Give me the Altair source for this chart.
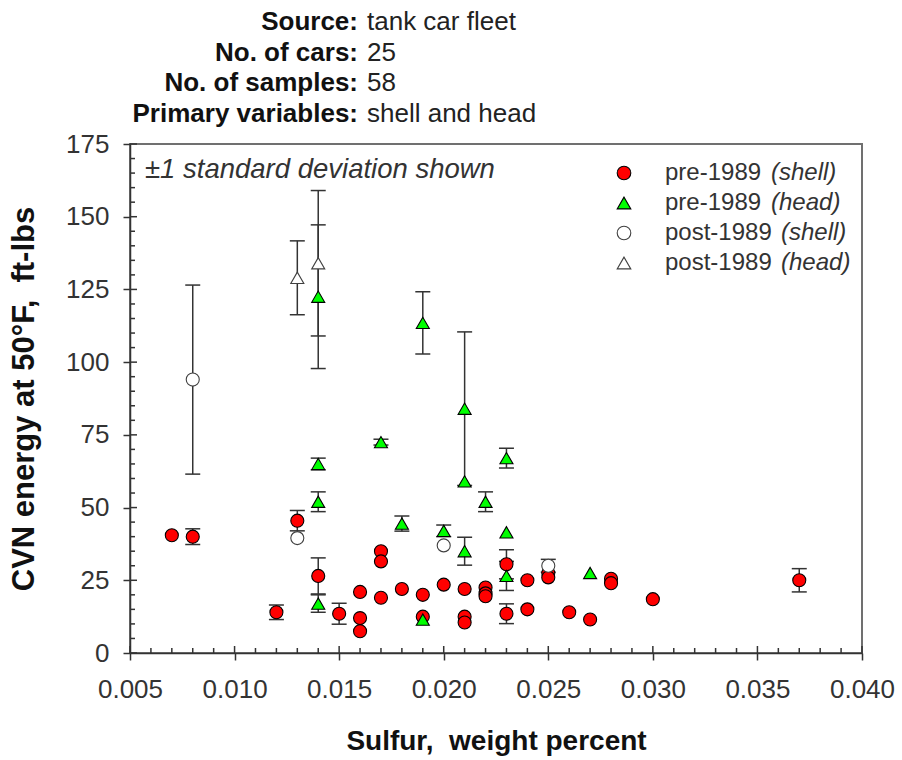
import altair as alt
import pandas as pd

# ---------------- data ----------------
# pre-1989 shell
ps_x = [0.007, 0.008, 0.012, 0.013, 0.014, 0.015, 0.016, 0.016, 0.016, 0.017, 0.017, 0.017,
        0.018, 0.019, 0.019, 0.020, 0.021, 0.021, 0.021, 0.022, 0.022, 0.022, 0.023, 0.023,
        0.024, 0.024, 0.025, 0.025, 0.026, 0.027, 0.028, 0.028, 0.030, 0.037]
ps_y = [40.5, 40.0, 14.0, 45.5, 26.5, 13.5, 21.0, 12.0, 7.5, 35.0, 31.5, 19.0,
        22.0, 20.0, 12.5, 23.5, 22.0, 12.5, 10.5, 22.5, 20.5, 19.5, 30.5, 13.5,
        25.0, 15.0, 27.5, 26.0, 14.0, 11.5, 25.5, 24.0, 18.5, 25.0]
ps_sd = [0, 2.7, 2.5, 3.5, 6.2, 3.6, 0, 0, 0, 0, 0, 0,
         0, 0, 0, 0, 0, 0, 0, 0, 0, 0, 5.0, 3.4,
         0, 0, 0, 0, 0, 0, 0, 0, 0, 4.0]

# pre-1989 head
ph_x = [0.014, 0.014, 0.014, 0.014, 0.017, 0.018, 0.019, 0.019, 0.020, 0.021, 0.021, 0.021,
        0.022, 0.023, 0.023, 0.023, 0.027]
ph_y = [122.5, 65.0, 52.0, 17.0, 72.5, 44.5, 113.5, 11.5, 42.0, 84.0, 59.0, 35.0,
        52.0, 67.0, 41.5, 26.5, 27.5]
ph_sd = [24.7, 2.0, 3.4, 3.0, 1.0, 2.6, 10.7, 0, 2.0, 26.4, 0, 4.8,
         3.4, 3.4, 0, 5.0, 0]

# post-1989 shell
qs_x = [0.008, 0.013, 0.020, 0.025]
qs_y = [94.0, 39.5, 37.0, 30.0]
qs_sd = [32.5, 0, 0, 2.2]

# post-1989 head
qh_x = [0.013, 0.014]
qh_y = [129.0, 134.0]
qh_sd = [12.7, 25.0]

groups = ["pre-1989 (shell)", "pre-1989 (head)", "post-1989 (shell)", "post-1989 (head)"]
legend_main = ["pre-1989", "pre-1989", "post-1989", "post-1989"]
legend_ital = ["(shell)", "(head)", "(shell)", "(head)"]
fills = ["#ff0000", "#00ff00", "#ffffff", "#ffffff"]
strokes = ["#000000", "#000000", "#404040", "#404040"]
shapes = ["circle", "triangle-up", "circle", "triangle-up"]

header_labels = ["Source:", "No. of cars:", "No. of samples:", "Primary variables:"]
header_values = ["tank car fleet", "25", "58", "shell and head"]

x_ticks = [0.005, 0.010, 0.015, 0.020, 0.025, 0.030, 0.035, 0.040]
x_minor = [round(0.005 + 0.001 * i, 3) for i in range(36)]
y_ticks = [0, 25, 50, 75, 100, 125, 150, 175]
y_minor = list(range(0, 176, 5))

x_title = "Sulfur,\u00a0 weight percent"
y_title = "CVN energy at 50°F,\u00a0 ft-lbs"
note = "±1 standard deviation shown"

# ---------------- build tables ----------------
rows = []
for g, xs, ys, sds in zip(groups, [ps_x, ph_x, qs_x, qh_x], [ps_y, ph_y, qs_y, qh_y],
                          [ps_sd, ph_sd, qs_sd, qh_sd]):
    for a, b, s in zip(xs, ys, sds):
        rows.append({"group": g, "x": a, "y": b, "sd": s, "lo": b - s, "hi": b + s})
df = pd.DataFrame(rows)
err = df[df["sd"] > 0].copy()
caps = pd.concat([err[["x", "lo"]].rename(columns={"lo": "c"}),
                  err[["x", "hi"]].rename(columns={"hi": "c"})])

W, H = 732, 509
FONT = "Liberation Sans, Arial, sans-serif"

xs_scale = alt.Scale(domain=[0.005, 0.040], nice=False, zero=False)
ys_scale = alt.Scale(domain=[0, 175], nice=False)

x_axis = alt.Axis(values=x_ticks, format=".3f", title=x_title, labelFontSize=26,
                  labelFlush=False, labelPadding=16, tickSize=7, titleFontSize=28,
                  titleFontWeight="bold", titleX=W / 2, titleY=88, titleBaseline="middle",
                  titleAlign="center")
y_axis = alt.Axis(values=y_ticks, format="d", title=y_title, labelFontSize=26,
                  labelFlush=False, labelPadding=14, tickSize=7, titleFontSize=31,
                  titleFontWeight="bold", titleX=-106, titleY=H / 2, titleAngle=-90,
                  titleBaseline="middle", titleAlign="center")

def X(field):
    return alt.X(field, type="quantitative", scale=xs_scale, axis=x_axis)

def Y(field):
    return alt.Y(field, type="quantitative", scale=ys_scale, axis=y_axis)

# error bars (behind markers)
bars = alt.Chart(err).mark_rule(color="#333333", strokeWidth=1.5).encode(
    x=X("x"), y=Y("lo"), y2="hi")
cap_marks = alt.Chart(caps).mark_tick(orient="horizontal", size=15, thickness=1.5,
                                      color="#333333", opacity=1).encode(x=X("x"), y=Y("c"))

points = alt.Chart(df).mark_point(size=170, filled=False, opacity=1, strokeWidth=1.1).encode(
    x=X("x"), y=Y("y"),
    shape=alt.Shape("group:N", scale=alt.Scale(domain=groups, range=shapes), legend=None),
    fill=alt.Fill("group:N", scale=alt.Scale(domain=groups, range=fills), legend=None),
    stroke=alt.Stroke("group:N", scale=alt.Scale(domain=groups, range=strokes), legend=None),
)

# inward tick marks (major ticks cross the axis, minor ticks point inward)
ymaj = pd.DataFrame({"v": y_ticks})
ymin = pd.DataFrame({"v": [v for v in y_minor if v not in y_ticks]})
xmaj = pd.DataFrame({"v": x_ticks})
xmin = pd.DataFrame({"v": [v for v in x_minor if not any(abs(v - t) < 1e-9 for t in x_ticks)]})

tick_style = dict(color="#333333", strokeWidth=1.5)
yin_maj = alt.Chart(ymaj).mark_rule(**tick_style).encode(y=Y("v"), x=alt.value(0), x2=alt.value(7))
yin_min = alt.Chart(ymin).mark_rule(**tick_style).encode(y=Y("v"), x=alt.value(0), x2=alt.value(5))
xin_maj = alt.Chart(xmaj).mark_rule(**tick_style).encode(x=X("v"), y=alt.value(H), y2=alt.value(H - 7))
xin_min = alt.Chart(xmin).mark_rule(**tick_style).encode(x=X("v"), y=alt.value(H), y2=alt.value(H - 5))

layers = [bars, cap_marks, points, yin_maj, yin_min, xin_maj, xin_min]

# annotation
layers.append(alt.Chart(pd.DataFrame({"t": [note]})).mark_text(
    align="left", baseline="middle", fontSize=27.5, fontStyle="italic", font=FONT,
    color="#333333").encode(text="t:N", x=alt.value(15), y=alt.value(26)))

# legend (built by hand so that the italic part can be shown)
leg_y0, leg_dy = 29, 30
ital_x = [641, 641, 651, 651]
for i in range(4):
    yy = leg_y0 + leg_dy * i
    layers.append(alt.Chart(pd.DataFrame({"g": [groups[i]]})).mark_point(
        size=185, opacity=1, strokeWidth=1.1, shape=shapes[i], fill=fills[i],
        stroke=strokes[i]).encode(x=alt.value(494), y=alt.value(yy)))
    layers.append(alt.Chart(pd.DataFrame({"t": [legend_main[i]]})).mark_text(
        align="left", baseline="middle", fontSize=24, font=FONT, color="#333333"
    ).encode(text="t:N", x=alt.value(535), y=alt.value(yy)))
    layers.append(alt.Chart(pd.DataFrame({"t": [legend_ital[i]]})).mark_text(
        align="left", baseline="middle", fontSize=24, font=FONT, fontStyle="italic",
        color="#333333").encode(text="t:N", x=alt.value(ital_x[i]), y=alt.value(yy)))

# header block above the plot
hdr_y0, hdr_dy = -122, 30.5
for i in range(4):
    yy = hdr_y0 + hdr_dy * i
    layers.append(alt.Chart(pd.DataFrame({"t": [header_labels[i]]})).mark_text(
        align="right", baseline="middle", fontSize=26, fontWeight="bold", font=FONT,
        color="#111111").encode(text="t:N", x=alt.value(228), y=alt.value(yy)))
    layers.append(alt.Chart(pd.DataFrame({"t": [header_values[i]]})).mark_text(
        align="left", baseline="middle", fontSize=26, font=FONT, color="#222222"
    ).encode(text="t:N", x=alt.value(237), y=alt.value(yy)))

chart = alt.layer(*layers).properties(
    width=W, height=H,
    autosize=alt.AutoSizeParams(type="none"),
    padding={"left": 130, "top": 144, "right": 40, "bottom": 107},
).configure(font=FONT).configure_view(
    stroke="#707070", strokeWidth=2
).configure_axis(
    grid=False, domainColor="#333333", domainWidth=1.5, tickColor="#333333",
    tickWidth=1.5, labelColor="#333333", titleColor="#111111", labelFont=FONT, titleFont=FONT
)

chart.save("out.html", embed_options={"renderer": "svg", "actions": False})
